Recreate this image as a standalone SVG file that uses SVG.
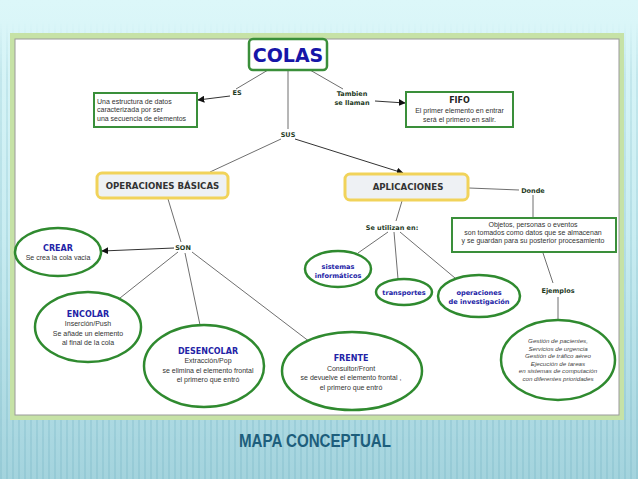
<svg xmlns="http://www.w3.org/2000/svg" width="638" height="479" viewBox="0 0 638 479">
<defs>
<linearGradient id="bg" x1="0" y1="0" x2="0" y2="1">
<stop offset="0" stop-color="#dcf7f9"/>
<stop offset="0.5" stop-color="#c8ecf1"/>
<stop offset="1" stop-color="#a3d3dd"/>
</linearGradient>
<linearGradient id="fade" x1="0" y1="0" x2="0" y2="1">
<stop offset="0" stop-color="#fff" stop-opacity="0"/>
<stop offset="0.12" stop-color="#fff" stop-opacity="0.6"/>
<stop offset="1" stop-color="#fff" stop-opacity="1"/>
</linearGradient>
<mask id="m"><rect x="0" y="20" width="638" height="459" fill="url(#fade)"/></mask>
<pattern id="stripes" width="6" height="10" patternUnits="userSpaceOnUse">
<rect x="0" y="0" width="2" height="10" fill="#7fb9c9" fill-opacity="0.35"/>
</pattern>
<marker id="arr" viewBox="0 0 10 10" refX="9" refY="5" markerWidth="7" markerHeight="7" markerUnits="userSpaceOnUse" orient="auto">
<path d="M0,0 L10,5 L0,10 z" fill="#111"/>
</marker>
</defs>
<style>
.ln{stroke:#6f6f6f;stroke-width:1;fill:none}
.ar{stroke:#333;stroke-width:1;fill:none;marker-end:url(#arr)}
.box{fill:#fff;stroke:#3a8f3a;stroke-width:2}
.ybox{fill:#eef1f4;stroke:#f1d35a;stroke-width:3}
.ell{fill:#fff;stroke:#2f8a2f;stroke-width:2.5}
.t{font-family:"Liberation Sans",Arial,sans-serif;font-size:7px;fill:#333;text-anchor:middle}
.tl{font-family:"Liberation Sans",Arial,sans-serif;font-size:7px;fill:#333}
.it{font-family:"Liberation Sans",Arial,sans-serif;font-size:6.2px;fill:#444;text-anchor:middle;font-style:italic}
.h{font-family:"DejaVu Sans",Verdana,sans-serif;font-weight:bold;font-size:8px;fill:#2323a6;text-anchor:middle}
.hs{font-family:"DejaVu Sans",Verdana,sans-serif;font-weight:bold;font-size:6.6px;fill:#2323a6;text-anchor:middle}
.lk{font-family:"DejaVu Sans",Verdana,sans-serif;font-weight:bold;font-size:6.5px;fill:#1e3a1e;text-anchor:middle}
.yt{font-family:"DejaVu Sans",Verdana,sans-serif;font-weight:bold;font-size:8.6px;fill:#333;text-anchor:middle}
</style>
<rect width="638" height="479" fill="url(#bg)"/>
<rect x="0" y="20" width="638" height="459" fill="url(#stripes)" mask="url(#m)"/>
<g id="frame">
<rect x="10" y="33" width="614" height="387" fill="#c6e2a6"/>
<rect x="15" y="39" width="604" height="376" fill="#fff" stroke="#9a9a9a" stroke-width="1"/>
</g>
<g id="connectors">
<line class="ln" x1="268" y1="70" x2="236" y2="89"/>
<line class="ar" x1="230" y1="96" x2="198" y2="100"/>
<line class="ln" x1="310" y1="70" x2="343" y2="89"/>
<line class="ar" x1="375" y1="101" x2="405" y2="103"/>
<line class="ln" x1="288" y1="70" x2="288" y2="129"/>
<line class="ln" x1="281" y1="139" x2="210" y2="172"/>
<line class="ar" x1="295" y1="139" x2="403" y2="173"/>
<line class="ln" x1="168" y1="199" x2="181" y2="242"/>
<line class="ar" x1="174" y1="248" x2="102" y2="251"/>
<line class="ln" x1="178" y1="252" x2="120" y2="298"/>
<line class="ln" x1="185" y1="253" x2="200" y2="325"/>
<line class="ln" x1="192" y1="252" x2="310" y2="342"/>
<line class="ln" x1="402" y1="201" x2="396" y2="221"/>
<line class="ln" x1="388" y1="232" x2="358" y2="253"/>
<line class="ln" x1="394" y1="232" x2="398" y2="279"/>
<line class="ln" x1="400" y1="232" x2="455" y2="278"/>
<line class="ln" x1="469" y1="188" x2="519" y2="190"/>
<line class="ln" x1="533" y1="195" x2="533" y2="218"/>
<line class="ln" x1="543" y1="253" x2="553" y2="283"/>
<line class="ln" x1="558" y1="297" x2="558" y2="320"/>
</g>
<g id="links">
<text class="lk" x="237" y="95">ES</text>
<text class="lk" x="352" y="96">Tambien</text>
<text class="lk" x="352" y="105">se llaman</text>
<text class="lk" x="288" y="137">SUS</text>
<text class="lk" x="183" y="250">SON</text>
<text class="lk" x="392" y="230">Se utilizan en:</text>
<text class="lk" x="533" y="193">Donde</text>
<text class="lk" x="558" y="293">Ejemplos</text>
</g>
<g id="colas">
<rect x="249" y="39" width="78" height="31" rx="4" fill="#fff" stroke="#3a8f3a" stroke-width="2.5"/>
<text x="288" y="62" font-family="DejaVu Sans,Verdana,sans-serif" font-weight="bold" font-size="19" fill="#1616a8" text-anchor="middle">COLAS</text>
</g>
<g id="estructura">
<rect class="box" x="94" y="93" width="103" height="34"/>
<text class="tl" x="97" y="103.5">Una estructura de datos</text>
<text class="tl" x="97" y="112">caracterizada por ser</text>
<text class="tl" x="97" y="120.5">una secuencia de elementos</text>
</g>
<g id="fifo">
<rect class="box" x="406" y="92" width="107" height="35"/>
<text x="459.5" y="103" font-family="DejaVu Sans,Verdana,sans-serif" font-weight="bold" font-size="8" fill="#222" text-anchor="middle">FIFO</text>
<text class="t" x="459.5" y="112.5">El primer elemento en entrar</text>
<text class="t" x="459.5" y="121.5">será el primero en salir.</text>
</g>
<g id="operaciones">
<rect class="ybox" x="97" y="173" width="131" height="25" rx="5"/>
<text class="yt" x="162.5" y="189">OPERACIONES BÁSICAS</text>
</g>
<g id="aplicaciones">
<rect class="ybox" x="345" y="174" width="123" height="26" rx="5"/>
<text class="yt" x="408" y="190">APLICACIONES</text>
</g>
<g id="objetos">
<rect class="box" x="452" y="218" width="164" height="34"/>
<text class="t" x="533" y="226.5">Objetos, personas o eventos</text>
<text class="t" x="533" y="234.5">son tomados como datos que se almacenan</text>
<text class="t" x="533" y="243">y se guardan para su posterior procesamiento</text>
</g>
<g id="crear">
<ellipse class="ell" cx="58" cy="252" rx="43" ry="24"/>
<text class="h" x="58" y="251">CREAR</text>
<text class="t" x="58" y="260">Se crea la cola vacia</text>
</g>
<g id="encolar">
<ellipse class="ell" cx="88" cy="327" rx="53" ry="35"/>
<text class="h" x="88" y="317">ENCOLAR</text>
<text class="t" x="88" y="326">Inserción/Push</text>
<text class="t" x="88" y="335.5">Se añade un elemento</text>
<text class="t" x="88" y="345">al final de la cola</text>
</g>
<g id="desencolar">
<ellipse class="ell" cx="204" cy="366" rx="60" ry="41"/>
<text class="h" x="208" y="354">DESENCOLAR</text>
<text class="t" x="208" y="363">Extracción/Pop</text>
<text class="t" x="208" y="372.5">se elimina el elemento frontal</text>
<text class="t" x="208" y="382">el primero que entró</text>
</g>
<g id="frente">
<ellipse class="ell" cx="352" cy="371" rx="70" ry="39"/>
<text class="h" x="351" y="361">FRENTE</text>
<text class="t" x="351" y="370.5">Consultor/Front</text>
<text class="t" x="351" y="380">se devuelve el elemento frontal ,</text>
<text class="t" x="351" y="389.5">el primero que entró</text>
</g>
<g id="sistemas">
<ellipse class="ell" cx="338" cy="269" rx="33" ry="18"/>
<text class="hs" x="338" y="268.5">sistemas</text>
<text class="hs" x="338" y="278">informáticos</text>
</g>
<g id="transportes">
<ellipse class="ell" cx="404" cy="292" rx="28" ry="13"/>
<text class="hs" x="404" y="295">transportes</text>
</g>
<g id="investigacion">
<ellipse class="ell" cx="479" cy="296" rx="41" ry="21"/>
<text class="hs" x="479" y="295">operaciones</text>
<text class="hs" x="479" y="304">de investigación</text>
</g>
<g id="ejemplos">
<ellipse class="ell" cx="558" cy="360" rx="57" ry="40"/>
<text class="it" x="558" y="343">Gestión de pacientes,</text>
<text class="it" x="558" y="350.5">Servicios de urgencia</text>
<text class="it" x="558" y="358">Gestión de tráfico aéreo</text>
<text class="it" x="558" y="365.5">Ejecución de tareas</text>
<text class="it" x="558" y="373">en sistemas de computación</text>
<text class="it" x="558" y="380.5">con diferentes prioridades</text>
</g>
<g id="title">
<text x="315" y="447" font-family="Liberation Sans,Arial,sans-serif" font-weight="bold" font-size="19" fill="#1d5e7c" text-anchor="middle" textLength="152" lengthAdjust="spacingAndGlyphs">MAPA CONCEPTUAL</text>
</g>
</svg>
